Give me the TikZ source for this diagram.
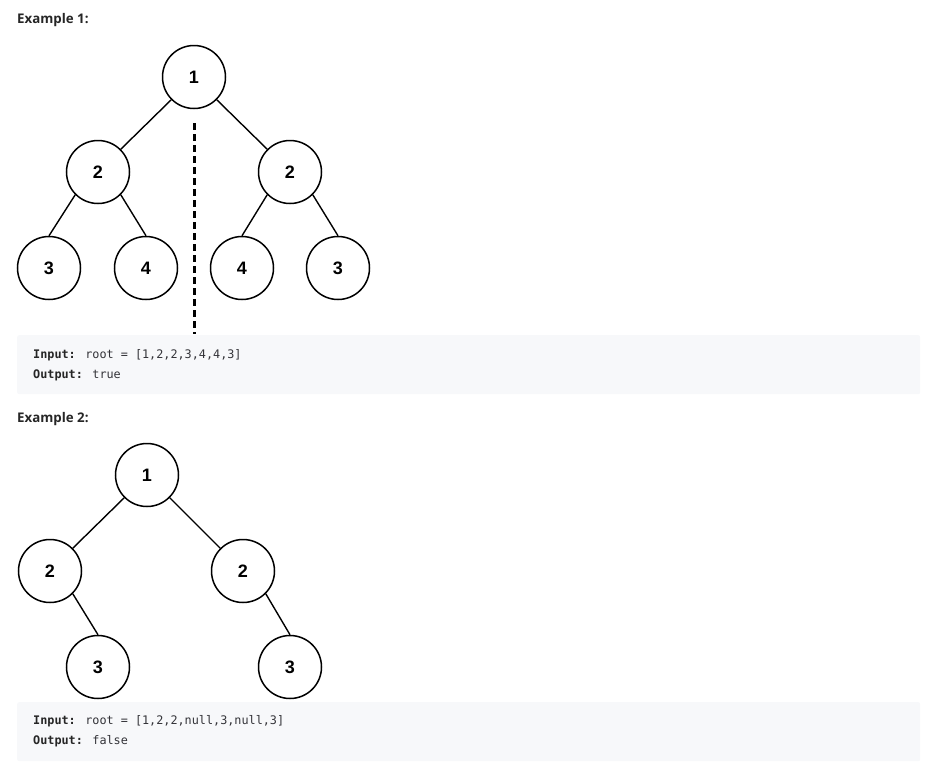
\documentclass[tikz,border=0pt]{standalone}
\usepackage{fontspec}
\setmainfont{Liberation Sans}
\newfontfamily\headfont{Open Sans}
\newfontfamily\codefont{DejaVu Sans Mono}
\definecolor{codebg}{HTML}{F7F8FA}
\definecolor{codetxt}{HTML}{262626}
\definecolor{codeval}{HTML}{333338}
\definecolor{headtxt}{HTML}{262626}
\begin{document}
\begin{tikzpicture}[x=1pt,y=-1pt,
  tn/.style={circle,draw=black,line width=1.5pt,minimum size=63pt,inner sep=0pt,
    font=\fontsize{18}{20}\selectfont\bfseries},
  edge/.style={line width=1.4pt,black},
  codebox/.style={fill=codebg,draw=none,rounded corners=2pt,minimum width=903pt,minimum height=59pt,anchor=north west,inner sep=0pt},
  codeline/.style={anchor=west,inner sep=0pt,text=codeval,font=\codefont\fontsize{11.8}{13}\selectfont},
  head/.style={anchor=west,inner sep=0pt,text=headtxt,font=\headfont\bfseries\fontsize{13.3}{15}\selectfont}]
\useasboundingbox (0,0) rectangle (938,772);
% Example 1
\node[head] (h1) at (17,20) {Example 1:};
\node[tn] (a) at (194,77) {1};
\node[tn] (b) at (98,172) {2};
\node[tn] (c) at (290,172) {2};
\node[tn] (d) at (49,268) {3};
\node[tn] (e) at (146,268) {4};
\node[tn] (f) at (242,268) {4};
\node[tn] (g) at (338,268) {3};
\draw[edge] (a.225) -- (b.45);
\draw[edge] (a.-45) -- (c.135);
\draw[edge] (b.225) -- (d.north);
\draw[edge] (b.-45) -- (e.north);
\draw[edge] (c.225) -- (f.north);
\draw[edge] (c.-45) -- (g.north);
\coordinate (m1) at (194,123);
\coordinate (m2) at (194,334);
\draw[line width=3pt,dash pattern=on 7pt off 4pt] (m1) -- (m2);
\node[codebox] (box1) at (17,335) {};
\node[codeline] (i1) at (33,355) {\textcolor{codetxt}{\textbf{Input:}} root = [1,2,2,3,4,4,3]};
\node[codeline] (o1) at (33,375) {\textcolor{codetxt}{\textbf{Output:}} true};
% Example 2
\node[head] (h2) at (17,419) {Example 2:};
\node[tn] (p) at (147,475) {1};
\node[tn] (q) at (50,571) {2};
\node[tn] (r) at (243,571) {2};
\node[tn] (s) at (98,667) {3};
\node[tn] (t) at (290,667) {3};
\draw[edge] (p.225) -- (q.45);
\draw[edge] (p.-45) -- (r.135);
\draw[edge] (q.-45) -- (s.north);
\draw[edge] (r.-45) -- (t.north);
\node[codebox] (box2) at (17,702) {};
\node[codeline] (i2) at (33,721) {\textcolor{codetxt}{\textbf{Input:}} root = [1,2,2,null,3,null,3]};
\node[codeline] (o2) at (33,741) {\textcolor{codetxt}{\textbf{Output:}} false};
\end{tikzpicture}
\end{document}
